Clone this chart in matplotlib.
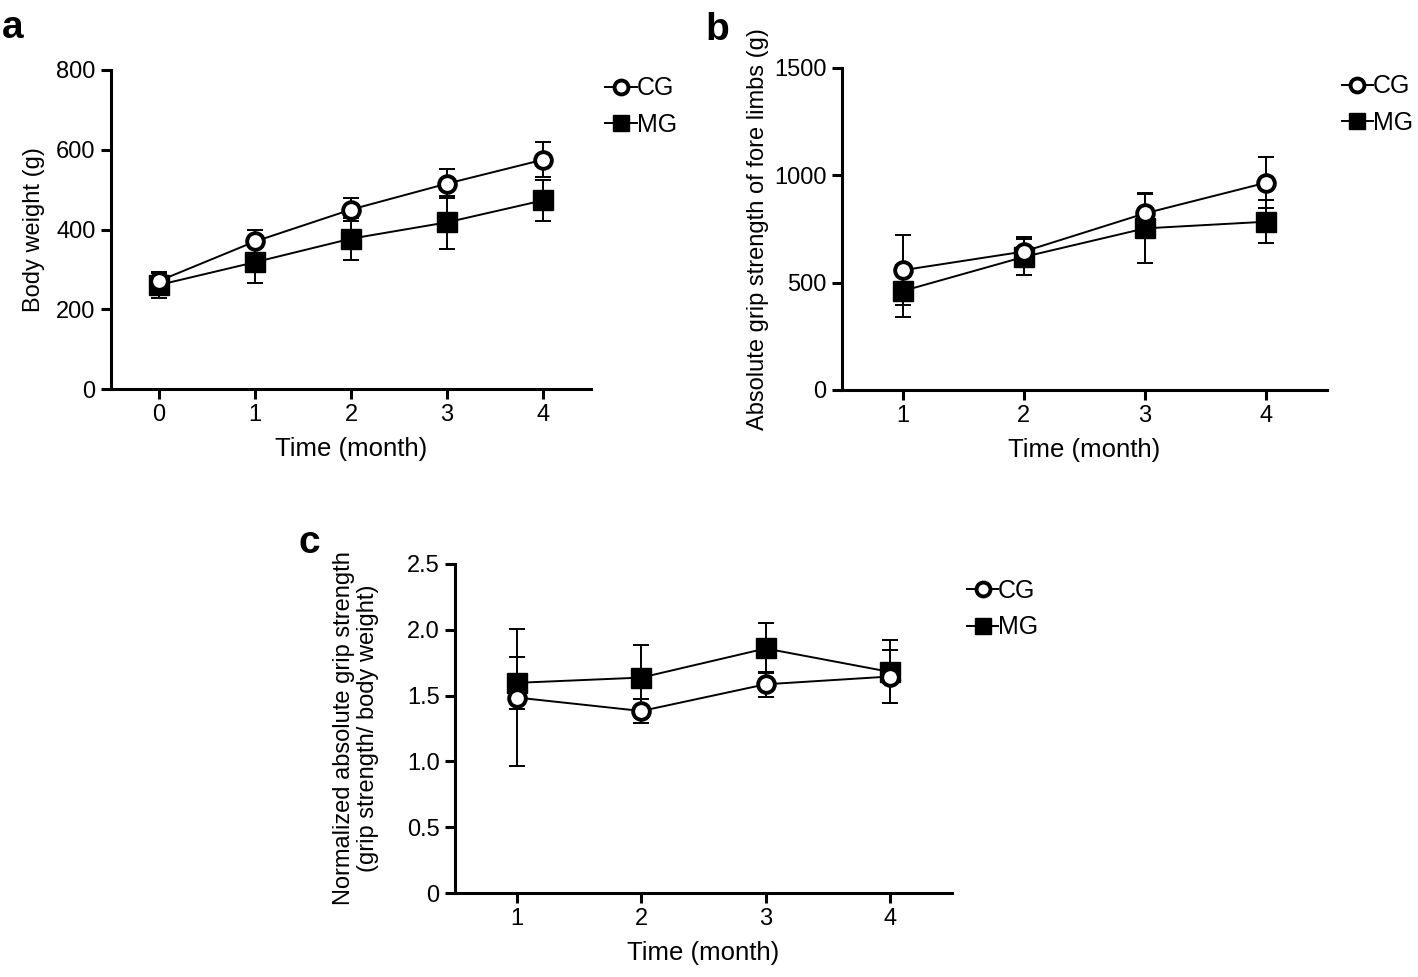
import matplotlib
matplotlib.use("Agg")
import matplotlib.pyplot as plt
from matplotlib.lines import Line2D
import numpy as np

plt.rcParams['font.family'] = ['Liberation Sans', 'DejaVu Sans']

# panel a: body weight (g)
months_a = [0, 1, 2, 3, 4]
cg_weight = [271, 370, 450, 515, 575]
cg_weight_err = [20, 28, 29, 36, 44]
mg_weight = [261, 318, 377, 418, 473]
mg_weight_err = [33, 51, 53, 67, 52]

# panel b: absolute grip strength of fore limbs (g)
months_b = [1, 2, 3, 4]
cg_grip = [558, 645, 823, 966]
cg_grip_err = [164, 68, 96, 120]
mg_grip = [461, 620, 753, 784]
mg_grip_err = [120, 84, 161, 101]

# panel c: normalized grip strength
months_c = [1, 2, 3, 4]
cg_norm = [1.485, 1.383, 1.586, 1.645]
cg_norm_err = [0.52, 0.09, 0.095, 0.20]
mg_norm = [1.597, 1.637, 1.858, 1.680]
mg_norm_err = [0.20, 0.25, 0.19, 0.24]

W, H = 1418, 977
fig = plt.figure(figsize=(W / 100, H / 100), dpi=100)

TICK_FS = 17
XLAB_FS = 18.5
YLAB_FS = 17
LEG_FS = 18


def axes_px(left, right, top, bottom):
    return fig.add_axes([left / W, 1 - bottom / H, (right - left) / W, (bottom - top) / H])


def style_axes(ax):
    for s in ['top', 'right']:
        ax.spines[s].set_visible(False)
    for s in ['left', 'bottom']:
        ax.spines[s].set_linewidth(2.2)
    ax.tick_params(direction='out', length=7, width=2.2, labelsize=TICK_FS, pad=4)


def draw_series(ax, x, cg, cg_err, mg, mg_err):
    # error bars first, markers on top
    for y, e in [(mg, mg_err), (cg, cg_err)]:
        ax.errorbar(x, y, yerr=e, fmt='none', ecolor='black', elinewidth=1.4,
                    capsize=5.5, capthick=1.4, zorder=2)
    ax.plot(x, mg, color='black', lw=1.4, marker='s', ms=14, mfc='black',
            mec='black', zorder=3)
    ax.plot(x, cg, color='black', lw=1.4, marker='o', ms=12, mfc='white',
            mec='black', mew=2.8, zorder=4)


def add_legend(ax, bx, by):
    handles = [Line2D([], [], color='black', lw=1.4, marker='o', ms=10, mfc='white',
                      mec='black', mew=2.8, label='CG'),
               Line2D([], [], color='black', lw=1.4, marker='s', ms=12, mfc='black',
                      mec='black', label='MG')]
    ax.legend(handles=handles, loc='upper left', bbox_to_anchor=(bx, by), frameon=False,
              fontsize=LEG_FS, handlelength=1.25, handletextpad=0.0, labelspacing=0.5,
              borderaxespad=0, borderpad=0)


# a
ax = axes_px(111, 591, 70, 389)
draw_series(ax, months_a, cg_weight, cg_weight_err, mg_weight, mg_weight_err)
ax.set_xlim(-0.5, 4.5)
ax.set_ylim(0, 800)
ax.set_xticks(months_a)
ax.set_yticks([0, 200, 400, 600, 800])
ax.set_xlabel('Time (month)', fontsize=XLAB_FS, labelpad=8)
ax.set_ylabel('Body weight (g)', fontsize=YLAB_FS, labelpad=8)
style_axes(ax)
add_legend(ax, 1.03, 0.98)
fig.text(2 / W, 1 - 38 / H, 'a', fontsize=28, fontweight='bold')

# b
ax = axes_px(842, 1327, 68, 390)
draw_series(ax, months_b, cg_grip, cg_grip_err, mg_grip, mg_grip_err)
ax.set_xlim(0.5, 4.5)
ax.set_ylim(0, 1500)
ax.set_xticks(months_b)
ax.set_yticks([0, 500, 1000, 1500])
ax.set_xlabel('Time (month)', fontsize=XLAB_FS, labelpad=8)
ax.set_ylabel('Absolute grip strength of fore limbs (g)', fontsize=YLAB_FS, labelpad=4)
style_axes(ax)
add_legend(ax, 1.03, 0.98)
fig.text(705 / W, 1 - 40 / H, 'b', fontsize=28, fontweight='bold')

# c
ax = axes_px(455, 952, 564, 893)
draw_series(ax, months_c, cg_norm, cg_norm_err, mg_norm, mg_norm_err)
ax.set_xlim(0.5, 4.5)
ax.set_ylim(0, 2.5)
ax.set_xticks(months_c)
ax.set_yticks([0, 0.5, 1.0, 1.5, 2.0, 2.5])
ax.set_yticklabels(['0', '0.5', '1.0', '1.5', '2.0', '2.5'])
ax.set_xlabel('Time (month)', fontsize=XLAB_FS, labelpad=8)
ax.set_ylabel('Normalized absolute grip strength\n(grip strength/ body weight)',
              fontsize=YLAB_FS, labelpad=20, linespacing=1.15)
style_axes(ax)
add_legend(ax, 1.03, 0.955)
fig.text(298 / W, 1 - 553 / H, 'c', fontsize=28, fontweight='bold')

fig.savefig('out.png', dpi=100)
